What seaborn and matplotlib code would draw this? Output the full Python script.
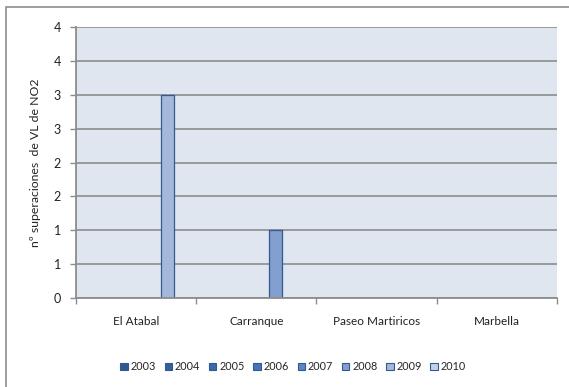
import matplotlib
matplotlib.use("Agg")
import matplotlib.pyplot as plt
from matplotlib.patches import Rectangle
import numpy as np
import pandas as pd
import seaborn as sns

# Stations and years of the NO2 limit-value exceedance count
stations = ["El Atabal", "Carranque", "Paseo Martiricos", "Marbella"]
years = ["2003", "2004", "2005", "2006", "2007", "2008", "2009", "2010"]

# Exceedances per station (rows) and year (columns)
exceedances = [
    [0, 0, 0, 0, 0, 0, 3, 0],  # El Atabal
    [0, 0, 0, 0, 0, 1, 0, 0],  # Carranque
    [0, 0, 0, 0, 0, 0, 0, 0],  # Paseo Martiricos
    [0, 0, 0, 0, 0, 0, 0, 0],  # Marbella
]

y_ticks = [0, 0.5, 1, 1.5, 2, 2.5, 3, 3.5, 4]
y_tick_labels = ["0", "1", "1", "2", "2", "3", "3", "4", "4"]

year_colors = ["#2F5A8E", "#33609B", "#3A69AC", "#4574BB", "#5A86C6",
               "#829FD0", "#A5B8DB", "#C3D1EA"]
edge_color = "#34598F"

rows = []
for s, vals in zip(stations, exceedances):
    for yr, v in zip(years, vals):
        rows.append({"Estación": s, "Año": yr, "Superaciones": v})
df = pd.DataFrame(rows)

sns.set_theme(style="white")
plt.rcParams["font.family"] = ["Lato", "DejaVu Sans"]

fig = plt.figure(figsize=(5.69, 3.87), dpi=100)
ax = fig.add_axes([0.1336, 0.230, 0.845, 0.700])
ax.set_facecolor("#DFE6F0")

sns.barplot(data=df, x="Estación", y="Superaciones", hue="Año",
            hue_order=years, order=stations, palette=year_colors,
            width=0.842, edgecolor=edge_color, linewidth=0.9,
            saturation=1, ax=ax, legend=True)

# hide outlines of empty bars
for p in ax.patches:
    if p.get_height() == 0:
        p.set_linewidth(0)

ax.set_xlim(-0.5, 3.5)
ax.set_ylim(0, 4)
ax.set_yticks(y_ticks)
ax.set_yticklabels(y_tick_labels)
ax.yaxis.grid(True, color="#8C8C8C", linewidth=1.2)
ax.set_axisbelow(True)

ax.set_xticks(np.arange(len(stations)))
ax.set_xticklabels(stations)
ax.set_xticks(np.arange(-0.5, len(stations), 1), minor=True)
ax.tick_params(axis="x", which="major", length=0, pad=13, labelsize=8.5,
               colors="#222222")
ax.tick_params(axis="x", which="minor", length=4, width=1, color="#8C8C8C",
               direction="out", bottom=True)
ax.tick_params(axis="y", length=4, width=1, color="#8C8C8C", direction="out",
               left=True, labelsize=9, colors="#222222", pad=7)

for side in ["top", "right"]:
    ax.spines[side].set_visible(False)
for side in ["left", "bottom"]:
    ax.spines[side].set_color("#8C8C8C")
    ax.spines[side].set_linewidth(1.3)

ax.set_xlabel("")
ax.set_ylabel("nº superaciones  de VL de NO2", fontsize=8.8, color="#222222",
              labelpad=9)

handles, labels = ax.get_legend_handles_labels()
ax.get_legend().remove()
leg = fig.legend(handles, labels, ncol=8, loc="center", frameon=False,
                 bbox_to_anchor=(0.515, 0.052), fontsize=7.8,
                 handlelength=0.7, handleheight=0.7, handletextpad=0.25,
                 columnspacing=0.8)
for h in leg.legend_handles:
    h.set_edgecolor(edge_color)
    h.set_linewidth(0.8)

# chart frame
fig.patches.append(Rectangle((0.0108, -0.05), 1.1, 0.05 + 0.982,
                             transform=fig.transFigure, fill=False,
                             edgecolor="#8C8C8C", linewidth=1.2))

fig.savefig("out.png", dpi=100, facecolor="white")
